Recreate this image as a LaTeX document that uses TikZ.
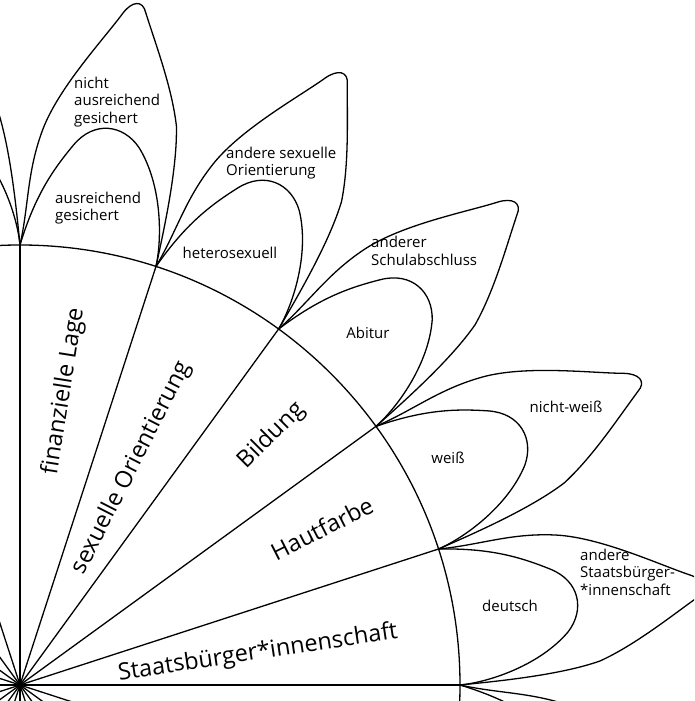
\documentclass[tikz,border=0pt]{standalone}
\usepackage{fontspec}
\setmainfont{Open Sans}

\begin{document}
\begin{tikzpicture}[x=1pt,y=1pt]
	\tikzstyle{line}=[draw, line width=1.3pt, line join=round]
	\tikzstyle{small}=[font=\fontsize{15}{17.5}\selectfont, align=left, inner sep=0pt]
	\tikzstyle{big}=[font=\fontsize{23.5}{28}\selectfont, inner sep=0pt]
	\newcommand\Rad{440}

	% Frame
	\useasboundingbox (-20,-16) rectangle (674,685);
	\clip (-20,-16) rectangle (674,685);

	% Spokes and arc
	\foreach \a in {0,18,...,342}
		\path [line] (0,0) -- (\a:\Rad);
	\path [line] (0,0) circle (\Rad);

	% Petals, one pair per sector
	\foreach \a in {0,18,...,342} {
		% inner petal
		\path [line, rotate=\a] (18:\Rad) .. controls (470,137) and (500,128) .. (530,116)
			.. controls (560,104) and (565,75) .. (548,53)
			.. controls (520,20) and (470,3) .. (0:\Rad);
		% outer petal
		\path [line, rotate=\a] (18:\Rad) .. controls (460,140) and (490,152) .. (535,150)
			.. controls (580,148) and (640,120) .. (670,110)
			.. controls (685,105) and (690,95) .. (678,88)
			.. controls (650,68) and (615,40) .. (580,24)
			.. controls (540,10) and (480,4) .. (0:\Rad);
	}

	% Sector labels
	\node [big, rotate=81] at (81.5:297) (fin) {finanzielle Lage};
	\node [big, rotate=63] at (62.7:244) (sex) {sexuelle Orientierung};
	\node [big, rotate=45] at (44.7:354) (bil) {Bildung};
	\node [big, rotate=27] at (27.4:340) (haut) {Hautfarbe};
	\node [big, rotate=8.5] at (7.6:240) (staat) {Staatsbürger*innenschaft};

	% Petal labels
	\node [small, anchor=west] at (54,583) (finout) {nicht\\ausreichend\\gesichert};
	\node [small, anchor=west] at (35,477) (finin) {ausreichend\\gesichert};
	\node [small, anchor=west] at (206,522) (sexout) {andere sexuelle\\Orientierung};
	\node [small] at (210,432) (sexin) {heterosexuell};
	\node [small, anchor=west] at (351,434) (bilout) {anderer\\Schulabschluss};
	\node [small] at (348,352) (bilin) {Abitur};
	\node [small] at (546,278) (hautout) {nicht-weiß};
	\node [small] at (428,227) (hautin) {weiß};
	\node [small, anchor=west] at (560,113) (staatout) {andere\\Staatsbürger-\\*innenschaft};
	\node [small] at (490,79) (staatin) {deutsch};
\end{tikzpicture}
\end{document}
